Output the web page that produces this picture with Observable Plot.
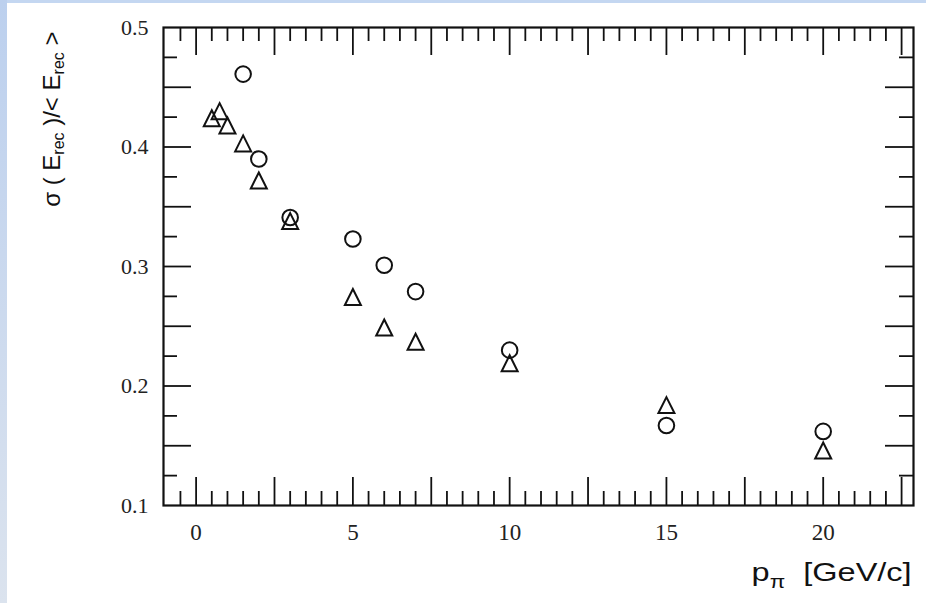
<!DOCTYPE html>
<html>
<head>
<meta charset="utf-8">
<script src="https://cdn.jsdelivr.net/npm/d3@7"></script>
<script src="https://cdn.jsdelivr.net/npm/@observablehq/plot@0.6"></script>
<style>
  html, body { margin: 0; padding: 0; background: #fff; }
  #wrap { position: relative; width: 926px; height: 603px; overflow: hidden; }
  #edgeTop { position: absolute; left: 0; top: 0; width: 926px; height: 3px; background: #c4d7f1; }
  #edgeLeft { position: absolute; left: 0; top: 0; width: 7px; height: 603px; background: linear-gradient(#bcd0ee, #dbe3ee); }
  svg text { white-space: pre; }
</style>
</head>
<body>
<div id="wrap">
  <div id="chart"></div>
  <div id="edgeTop"></div>
  <div id="edgeLeft"></div>
</div>
<script>
// Relative energy resolution versus pion momentum, two data sets
const circleMomentum   = [1.5, 2, 3, 5, 6, 7, 10, 15, 20];
const circleResolution = [0.461, 0.390, 0.341, 0.323, 0.301, 0.279, 0.230, 0.167, 0.162];

const triangleMomentum   = [0.5, 0.75, 1, 1.5, 2, 3, 5, 6, 7, 10, 15, 20];
const triangleResolution = [0.424, 0.430, 0.418, 0.403, 0.372, 0.338, 0.2745, 0.249, 0.237, 0.219, 0.184, 0.146];

const xTickLabels = [0, 5, 10, 15, 20];
const yTickLabels = [0.1, 0.2, 0.3, 0.4, 0.5];

const xTitle = "pπ  [GeV/c]";
const yTitle = "σ ( Erec )/< Erec >";

// Layout
const W = 926, H = 603;
const mL = 163, mR = 13, mT = 27, mB = 98;
const frameW = W - mL - mR, frameH = H - mT - mB;
const majorLen = 28, minorLen = 14;
const ink = "#111";
const serif = "'Liberation Serif', 'Times New Roman', serif";
const sans = "'Liberation Sans', Arial, sans-serif";

// Tick positions: long ticks every 2.5 (x) / 0.05 (y), short ticks in between
const xMajor = d3.range(0, 10).map(i => i * 2.5);
const xMinor = d3.range(-1, 46).map(i => i * 0.5).filter(v => Math.abs(v / 2.5 - Math.round(v / 2.5)) > 1e-9);
const yMajor = d3.range(3, 10).map(i => i * 0.05);
const yMinor = d3.range(0, 8).map(i => 0.125 + i * 0.05);

const circles = circleMomentum.map((p, i) => ({p, res: circleResolution[i]}));
const triangles = triangleMomentum.map((p, i) => ({p, res: triangleResolution[i]}));

// Open triangle with apex and base equidistant from the centre
const openTriangle = {
  draw(context, size) {
    const s = Math.sqrt(size / Math.PI);
    context.moveTo(0, -s);
    context.lineTo(s, s);
    context.lineTo(-s, s);
    context.closePath();
  }
};

const tickStyle = {stroke: ink, strokeWidth: 1.8};

const svg = Plot.plot({
  width: W,
  height: H,
  marginLeft: mL,
  marginRight: mR,
  marginTop: mT,
  marginBottom: mB,
  style: {background: "transparent", overflow: "visible"},
  x: {domain: [-1.04, 22.88], axis: null},
  y: {domain: [0.1, 0.5], axis: null},
  marks: [
    // inward ticks on all four sides
    Plot.tickX(xMajor, {x: d => d, insetTop: frameH - majorLen, ...tickStyle}),
    Plot.tickX(xMinor, {x: d => d, insetTop: frameH - minorLen, ...tickStyle}),
    Plot.tickX(xMajor, {x: d => d, insetBottom: frameH - majorLen, ...tickStyle}),
    Plot.tickX(xMinor, {x: d => d, insetBottom: frameH - minorLen, ...tickStyle}),
    Plot.tickY(yMajor, {y: d => d, insetRight: frameW - majorLen, ...tickStyle}),
    Plot.tickY(yMinor, {y: d => d, insetRight: frameW - minorLen, ...tickStyle}),
    Plot.tickY(yMajor, {y: d => d, insetLeft: frameW - majorLen, ...tickStyle}),
    Plot.tickY(yMinor, {y: d => d, insetLeft: frameW - minorLen, ...tickStyle}),
    Plot.frame({stroke: ink, strokeWidth: 2.2}),

    // tick labels
    Plot.text(xTickLabels, {
      x: d => d, text: d => String(d), frameAnchor: "bottom", dy: 27,
      lineAnchor: "middle", fontFamily: serif, fontSize: 23, fill: "#222"
    }),
    Plot.text(yTickLabels, {
      y: d => d, text: d => d.toFixed(1), frameAnchor: "left", dx: -15,
      textAnchor: "end", lineAnchor: "middle", fontFamily: serif, fontSize: 22, fill: "#222"
    }),

    // axis titles
    Plot.text([xTitle], {
      text: d => d, frameAnchor: "bottom-right", dx: -2, dy: 75,
      textAnchor: "end", lineAnchor: "bottom", fontFamily: sans, fontSize: 26, fill: ink
    }),
    Plot.text([yTitle], {
      text: d => d, frameAnchor: "top-left", dx: -111, dy: 4, rotate: -90,
      textAnchor: "end", lineAnchor: "middle", fontFamily: sans, fontSize: 24, fill: ink
    }),

    // data
    Plot.dot(circles, {x: "p", y: "res", r: 7.8, symbol: "circle", fill: "none", stroke: ink, strokeWidth: 2}),
    Plot.dot(triangles, {x: "p", y: "res", r: 8, symbol: openTriangle, fill: "none", stroke: ink, strokeWidth: 2})
  ]
});

document.getElementById("chart").appendChild(svg);

// Rewrite a title with subscripted parts
const NS = "http://www.w3.org/2000/svg";
function subscriptTitle(plain, parts, subSize, shift) {
  const t = Array.from(svg.querySelectorAll("text")).find(e => e.textContent === plain);
  if (!t) return null;
  t.textContent = "";
  let off = 0;
  for (const part of parts) {
    const s = document.createElementNS(NS, "tspan");
    const target = part.sub ? shift : 0;
    s.setAttribute("dy", target - off);
    off = target;
    if (part.sub) s.setAttribute("font-size", subSize);
    s.textContent = part.t;
    t.appendChild(s);
  }
  return t;
}

const xt = subscriptTitle(xTitle, [{t: "p"}, {t: "π", sub: true}, {t: "  [GeV/c]"}], 18, 7);
subscriptTitle(yTitle, [{t: "σ ( E"}, {t: "rec", sub: true}, {t: " )/< E"}, {t: "rec", sub: true}, {t: " >"}], 16, 4);

// widen the momentum title about its right end
if (xt) {
  const g = xt.parentNode;
  const wrapG = document.createElementNS(NS, "g");
  g.parentNode.insertBefore(wrapG, g);
  wrapG.appendChild(g);
  const ax = W - mR - 2;
  wrapG.setAttribute("transform", `translate(${ax},0) scale(1.25,1) translate(${-ax},0)`);
}
</script>
</body>
</html>
